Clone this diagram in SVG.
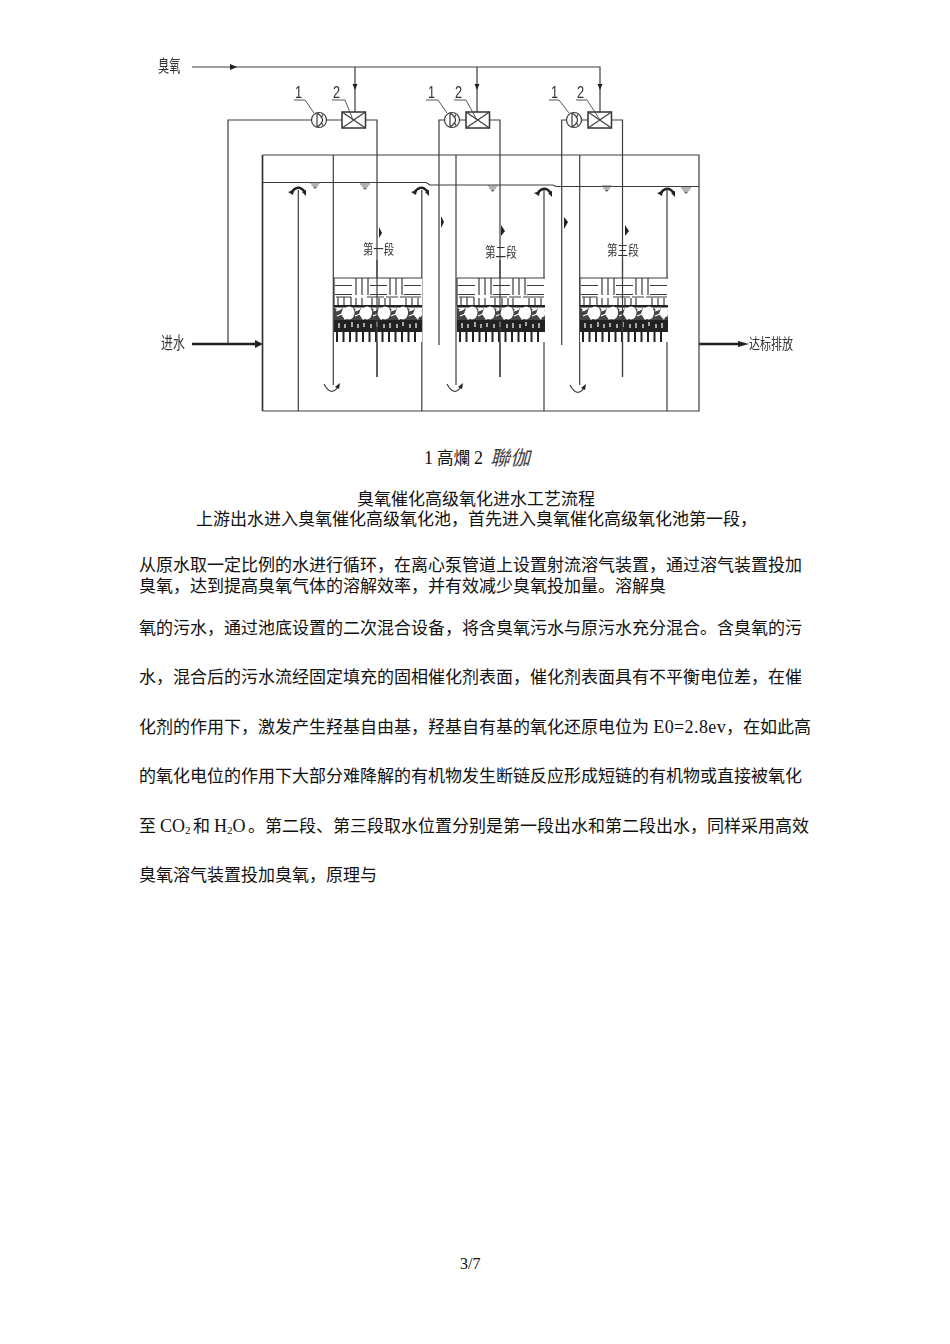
<svg xmlns="http://www.w3.org/2000/svg" width="950" height="1344" viewBox="0 0 950 1344">
<style>
.p{fill:none;stroke:#3d3d3d;stroke-width:1.2}
.t{fill:none;stroke:#333;stroke-width:1.7}
.h{fill:none;stroke:#222;stroke-width:2.4}
.a{fill:#222;stroke:none}
.w{fill:none;stroke:#666;stroke-width:1}
.lead{fill:none;stroke:#444;stroke-width:.9}
.num{font-family:"Liberation Sans",sans-serif;font-size:17px;fill:#333}
.cad{font-family:"Noto Sans CJK SC",sans-serif;fill:#333}
.b{font-family:"Liberation Serif","Noto Sans CJK SC",serif;font-size:17px;fill:#111}
.l{font-size:18px}
.sub{font-size:11px}
</style>
<defs>
<filter id="soft" x="-5%" y="-5%" width="110%" height="110%"><feGaussianBlur stdDeviation="0.4"/></filter>
<g id="media">
<rect x="0" y="0" width="88" height="64" fill="#fff"/>
<path class="p" d="M0 0H88M0 0V27M1 7.500H18M1 16.500H18M22 0V17M28 0V17M34 0V17M36 7.500H53M36 16.500H53M56 0V17M62 0V17M68 0V17M70 7.500H87M70 16.500H87"/>
<path class="p" d="M2 19H17M33 19H50M52 19H64M66 19H87M4 19V27M10 19V27M17 19V27M22 20V27M28 20V27M38 20V27M45 20V27M51 20V27M56 20V27M72 20V27M78 20V27M84 20V27"/>
<rect x="0" y="27" width="88" height="2.500" fill="#222"/>
<path d="M0 29L4 33L9 30L7 36L11 42H0ZM19 29L23 33L27 30L25 36L29 42H11L20 36ZM37 29L41 33L45 30L43 36L47 42H29L38 36ZM55 29L59 33L63 30L61 36L65 42H47L56 36ZM73 29L77 33L81 30L79 36L84 42H65L74 36ZM88 31V42H84Z" fill="#444"/>
<path d="M2 33L7 31M3 38L8 36M21 33L26 31M21 38L26 36M39 33L44 31M39 38L44 36M57 33L62 31M57 38L62 36M75 33L80 31M75 38L80 36" stroke="#fff" stroke-width="1.300" fill="none"/>
<g fill="#fff"><ellipse cx="15" cy="35" rx="5.500" ry="6.500"/><ellipse cx="33" cy="35" rx="5" ry="6.500"/><ellipse cx="51" cy="35" rx="5.500" ry="6.500"/><ellipse cx="69" cy="35" rx="5" ry="6.500"/><ellipse cx="86" cy="35" rx="2" ry="4"/></g>
<rect x="0" y="42" width="88" height="12" fill="#222"/>
<path d="M5 45v5M11 46v4M18 44v5M24 46v4M30 45v4M37 46v4M43 44v5M50 46v4M56 45v5M63 46v4M69 44v4M76 46v4M82 45v5" stroke="#fff" stroke-width="1.200" fill="none"/>
<path d="M3 54v10M9.500 54v10M16 54v10M22.500 54v10M29 54v10M35.500 54v10M42 54v10M48.500 54v10M55 54v10M61.500 54v10M68 54v10M74.500 54v10M81 54v10" stroke="#222" stroke-width="2" fill="none"/>
</g>
<g id="level"><path class="w" d="M-5 0H5M-3.500 2H3.500"/><path d="M-2.500 3.500H2.500L0 6Z" fill="#666"/></g>
<g id="arch"><path d="M-7 4Q0 -6 7 3" fill="none" stroke="#222" stroke-width="2.300"/><path class="a" d="M-10 3L-4 1L-5 6ZM8 7L4 3L8 1Z"/></g>
<g id="swirl"><path class="p" d="M-8 -5Q-1 8 6 -2"/><path class="a" d="M8 -6L7 0L3 -2Z"/></g>
<g id="pump"><circle class="p" cx="0" cy="0" r="7.500"/><path class="p" d="M-2 -7V7M-2 -7Q9 0 -2 7M4 -5.500L2 -2M4 5.500L2 2"/></g>
<g id="box"><rect x="0" y="0" width="23.500" height="16" fill="none" stroke="#333" stroke-width="1.500"/><path class="p" d="M0 0L23.500 16M23.500 0L0 16"/></g>
</defs>

<g id="diagram" filter="url(#soft)">
<g id="connectors">
<path class="p" d="M192 67H600V112M355 67V112M477 67V112"/>
<path class="a" d="M230 64L237 67L230 70ZM352.500 84H357.500L355 90ZM474.500 84H479.500L477 90ZM597.500 84H602.500L600 90Z"/>
<path class="p" d="M311.500 120H228V344M326 120H342M366 120H377V377"/>
<path class="p" d="M444.500 120H439V345M459 120H466M490 120H500V377"/>
<path class="p" d="M566.500 120H561.700V345M581 120H588M612 120H622.500V377"/>
<path class="h" d="M192 344H256"/><path class="a" d="M255 340L263 344L255 348Z"/>
<path class="h" d="M699 344H740"/><path class="a" d="M738 341L749 344L738 347Z"/>
<path class="a" d="M379 227L382 233L379 238ZM501 225L505 231L501 236ZM625 225L629 231L625 236ZM441 216L444 222L441 228ZM564 217L568 222L564 229Z"/>
</g>

<g id="tank">
<path class="t" d="M262.500 155V411"/>
<path class="p" d="M262.500 155H699V411H262.500"/>
<path class="p" d="M262.500 182.500H426L430 185H553L556 186.500H699"/>
<path class="p" d="M333.300 155V385M456 155V385M579.700 155V385"/>
<path class="p" d="M298.300 190V411M421.800 190V411M544 190V411M667 190V411"/>
<use href="#level" x="315" y="183"/><use href="#level" x="365" y="184"/><use href="#level" x="492.700" y="186"/><use href="#level" x="606.700" y="186"/><use href="#level" x="686" y="188"/>
<use href="#arch" x="298" y="189"/><use href="#arch" x="421" y="189"/><use href="#arch" x="544" y="190"/><use href="#arch" x="667" y="190"/>
<use href="#swirl" x="332" y="389"/><use href="#swirl" x="455" y="389"/><use href="#swirl" x="578" y="390"/>
</g>

<g id="media-1"><use href="#media" x="334" y="278"/><path class="p" d="M377 260V377"/></g>
<g id="media-2"><use href="#media" x="457" y="278"/><path class="p" d="M500 260V377"/></g>
<g id="media-3"><use href="#media" x="580" y="278"/><path class="p" d="M622.500 260V377"/></g>

<g id="pump-1"><use href="#pump" x="319" y="120"/><path class="lead" d="M294 100H305L314 113"/><text class="num" transform="translate(295 98) scale(.75 1)">1</text></g>
<g id="mixer-1"><use href="#box" x="342" y="112"/><path class="lead" d="M332 100H345L353 120"/><text class="num" transform="translate(333 98) scale(.75 1)">2</text></g>
<g id="pump-2"><use href="#pump" x="452" y="120"/><path class="lead" d="M426 100H438L447 113"/><text class="num" transform="translate(428 98) scale(.75 1)">1</text></g>
<g id="mixer-2"><use href="#box" x="466" y="112"/><path class="lead" d="M454 100H466L477 120"/><text class="num" transform="translate(455 98) scale(.75 1)">2</text></g>
<g id="pump-3"><use href="#pump" x="574" y="120"/><path class="lead" d="M549 100H559L569 113"/><text class="num" transform="translate(551 98) scale(.75 1)">1</text></g>
<g id="mixer-3"><use href="#box" x="588" y="112"/><path class="lead" d="M576 100H587L600 120"/><text class="num" transform="translate(577 98) scale(.75 1)">2</text></g>

<g id="labels">
<text class="cad" font-size="14" transform="translate(158 72) scale(.8 1.2)">臭氧</text>
<text class="cad" font-size="14" transform="translate(161 349) scale(.85 1.2)">进水</text>
<text class="cad" font-size="12" transform="translate(749 349) scale(.92 1.2)">达标排放</text>
<text class="cad" font-size="11.500" transform="translate(363 254) scale(.9 1.15)">第一段</text>
<text class="cad" font-size="11.500" transform="translate(485 257) scale(.92 1.15)">第二段</text>
<text class="cad" font-size="11.500" transform="translate(607 255) scale(.92 1.15)">第三段</text>
</g>
</g>

<g id="text">
<text class="b l" x="424" y="464">1</text>
<text class="b" x="437" y="464" style="font-size:16.500px">高爛</text>
<text class="b l" x="474" y="464">2</text>
<text class="b" x="490" y="465" font-style="italic" style="font-size:20px;fill:#444">聯伽</text>
<text class="b" x="357" y="505">臭氧催化高级氧化进水工艺流程</text>
<text class="b" x="196" y="525">上游出水进入臭氧催化高级氧化池，首先进入臭氧催化高级氧化池第一段，</text>
<text class="b" x="139" y="571">从原水取一定比例的水进行循环，在离心泵管道上设置射流溶气装置，通过溶气装置投加</text>
<text class="b" x="139" y="592">臭氧，达到提高臭氧气体的溶解效率，并有效减少臭氧投加量。溶解臭</text>
<text class="b" x="139" y="634">氧的污水，通过池底设置的二次混合设备，将含臭氧污水与原污水充分混合。含臭氧的污</text>
<text class="b" x="139" y="683">水，混合后的污水流经固定填充的固相催化剂表面，催化剂表面具有不平衡电位差，在催</text>
<text class="b" x="139" y="733">化剂的作用下，激发产生羟基自由基，羟基自有基的氧化还原电位为 <tspan class="l" letter-spacing=".4">E0=2.8ev</tspan>，在如此高</text>
<text class="b" x="139" y="782">的氧化电位的作用下大部分难降解的有机物发生断链反应形成短链的有机物或直接被氧化</text>
<text class="b" x="139" y="832">至 <tspan class="l" x="160">CO</tspan><tspan class="sub" dy="2">2</tspan><tspan x="193" dy="-2">和</tspan><tspan class="l" x="214">H</tspan><tspan class="sub" dy="2">2</tspan><tspan class="l" dy="-2">O</tspan><tspan x="248">。第二段、第三段取水位置分别是第一段出水和第二段出水，同样采用高效</tspan></text>
<text class="b" x="139" y="881">臭氧溶气装置投加臭氧，原理与</text>
<text class="b" x="460" y="1269" style="font-size:16px">3/7</text>
</g>
</svg>
